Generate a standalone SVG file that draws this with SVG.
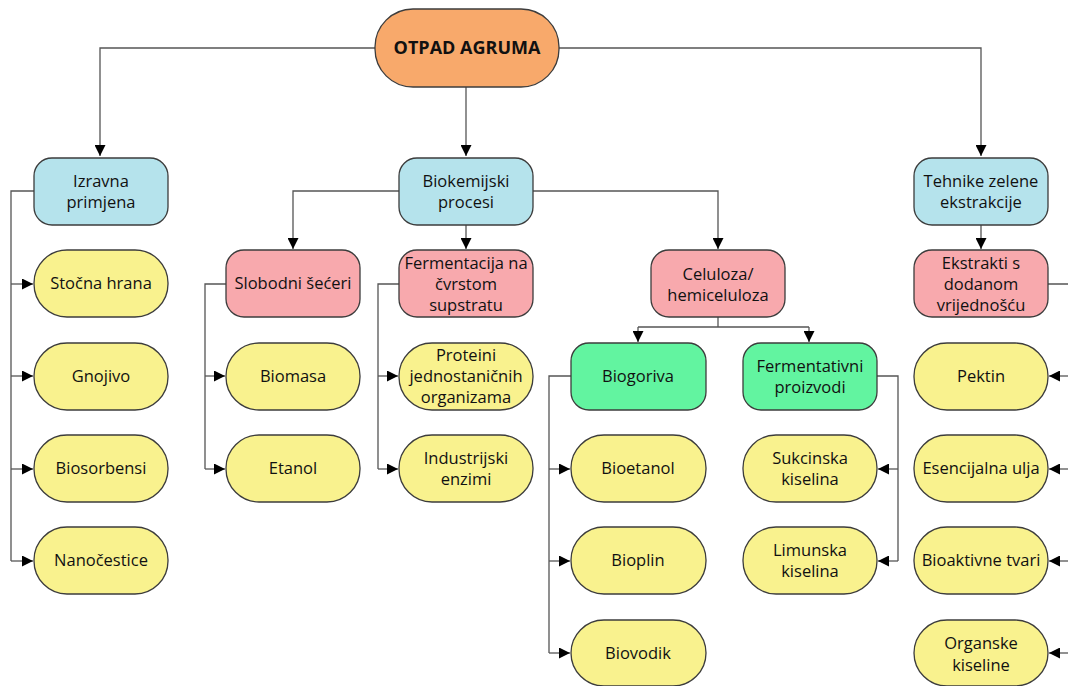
<svg xmlns="http://www.w3.org/2000/svg" width="1068" height="686" viewBox="0 0 1068 686">
<defs>
<marker id="ah" viewBox="0 0 10 10" refX="10" refY="5" markerWidth="11" markerHeight="11" markerUnits="userSpaceOnUse" orient="auto"><path d="M0,0 L10,5 L0,10 z" fill="#000"/></marker>
<style>
.box{stroke:#3c3c3c;stroke-width:1.3}
.org{fill:#F8A96B}.blu{fill:#B5E3EC}.pnk{fill:#F8A9AD}.grn{fill:#62F4A0}.yel{fill:#F9F28E}
text{font-family:"Open Sans","Noto Sans",sans-serif;font-size:16.5px;fill:#111;text-anchor:middle}
.b{font-weight:bold;font-size:18px}
.c path{fill:none;stroke:#555;stroke-width:1.3}
.c path.a{marker-end:url(#ah)}
</style>
</defs>
<rect width="1068" height="686" fill="#fff"/>
<g class="c" id="connectors">
<path d="M375,48 H100 V156" class="a"/>
<path d="M559,48 H981 V156" class="a"/>
<path d="M466,87 V156" class="a"/>
<path d="M34,191 H11 V561"/>
<path d="M11,284 H33" class="a"/><path d="M11,376 H33" class="a"/><path d="M11,469 H33" class="a"/><path d="M11,561 H33" class="a"/>
<path d="M399,191 H293 V249" class="a"/>
<path d="M533,191 H718 V249" class="a"/>
<path d="M466,225 V249" class="a"/>
<path d="M981,225 V249" class="a"/>
<path d="M226,284 H205 V469"/>
<path d="M205,376 H225" class="a"/><path d="M205,469 H225" class="a"/>
<path d="M399,284 H378 V469"/>
<path d="M378,376 H398" class="a"/><path d="M378,469 H398" class="a"/>
<path d="M718,317 V327"/>
<path d="M638,327 H809"/>
<path d="M638,327 V342" class="a"/><path d="M809,327 V342" class="a"/>
<path d="M571,376 H549 V653"/>
<path d="M549,469 H570" class="a"/><path d="M549,561 H570" class="a"/><path d="M549,653 H570" class="a"/>
<path d="M877,376 H898 V561"/>
<path d="M898,469 H878" class="a"/><path d="M898,561 H878" class="a"/>
<path d="M1048,284 H1076 V653"/>
<path d="M1076,376 H1049" class="a"/><path d="M1076,469 H1049" class="a"/><path d="M1076,561 H1049" class="a"/><path d="M1076,653 H1049" class="a"/>
</g>
<g id="root"><rect class="box org" x="375" y="9" width="184" height="78" rx="38"/><text class="b" x="467" y="54">OTPAD AGRUMA</text></g>
<g id="izravna"><rect class="box blu" x="34" y="158" width="134" height="67" rx="18"/><text x="101" y="187">Izravna</text><text x="101" y="208">primjena</text></g>
<g id="biokemijski"><rect class="box blu" x="399" y="158" width="134" height="67" rx="18"/><text x="466" y="187">Biokemijski</text><text x="466" y="208">procesi</text></g>
<g id="tehnike"><rect class="box blu" x="914" y="158" width="134" height="67" rx="18"/><text x="981" y="187">Tehnike zelene</text><text x="981" y="208">ekstrakcije</text></g>
<g id="stocna"><rect class="box yel" x="34" y="250" width="134" height="67" rx="33"/><text x="101" y="289">Stočna hrana</text></g>
<g id="gnojivo"><rect class="box yel" x="34" y="343" width="134" height="67" rx="33"/><text x="101" y="382">Gnojivo</text></g>
<g id="biosorbensi"><rect class="box yel" x="34" y="435" width="134" height="67" rx="33"/><text x="101" y="474">Biosorbensi</text></g>
<g id="nanocestice"><rect class="box yel" x="34" y="527" width="134" height="67" rx="33"/><text x="101" y="566">Nanočestice</text></g>
<g id="slobodni"><rect class="box pnk" x="226" y="250" width="134" height="67" rx="18"/><text x="293" y="289">Slobodni šećeri</text></g>
<g id="biomasa"><rect class="box yel" x="226" y="343" width="134" height="67" rx="33"/><text x="293" y="382">Biomasa</text></g>
<g id="etanol"><rect class="box yel" x="226" y="435" width="134" height="67" rx="33"/><text x="293" y="474">Etanol</text></g>
<g id="fermentacija"><rect class="box pnk" x="399" y="250" width="134" height="67" rx="18"/><text x="466" y="269">Fermentacija na</text><text x="466" y="290">čvrstom</text><text x="466" y="311">supstratu</text></g>
<g id="proteini"><rect class="box yel" x="399" y="343" width="134" height="67" rx="33"/><text x="466" y="361">Proteini</text><text x="466" y="382">jednostaničnih</text><text x="466" y="403">organizama</text></g>
<g id="industrijski"><rect class="box yel" x="399" y="435" width="134" height="67" rx="33"/><text x="466" y="464">Industrijski</text><text x="466" y="485">enzimi</text></g>
<g id="celuloza"><rect class="box pnk" x="651" y="250" width="134" height="67" rx="18"/><text x="718" y="280">Celuloza/</text><text x="718" y="301">hemiceluloza</text></g>
<g id="biogoriva"><rect class="box grn" x="571" y="343" width="135" height="67" rx="18"/><text x="638" y="382">Biogoriva</text></g>
<g id="fermentativni"><rect class="box grn" x="743" y="343" width="134" height="67" rx="18"/><text x="810" y="372">Fermentativni</text><text x="810" y="393">proizvodi</text></g>
<g id="bioetanol"><rect class="box yel" x="571" y="435" width="135" height="67" rx="33"/><text x="638" y="474">Bioetanol</text></g>
<g id="bioplin"><rect class="box yel" x="571" y="527" width="135" height="67" rx="33"/><text x="638" y="566">Bioplin</text></g>
<g id="biovodik"><rect class="box yel" x="571" y="620" width="135" height="66" rx="33"/><text x="638" y="659">Biovodik</text></g>
<g id="sukcinska"><rect class="box yel" x="743" y="435" width="134" height="67" rx="33"/><text x="810" y="464">Sukcinska</text><text x="810" y="485">kiselina</text></g>
<g id="limunska"><rect class="box yel" x="743" y="527" width="134" height="67" rx="33"/><text x="810" y="556">Limunska</text><text x="810" y="577">kiselina</text></g>
<g id="ekstrakti"><rect class="box pnk" x="914" y="250" width="134" height="67" rx="18"/><text x="981" y="269">Ekstrakti s</text><text x="981" y="290">dodanom</text><text x="981" y="311">vrijednošću</text></g>
<g id="pektin"><rect class="box yel" x="914" y="343" width="134" height="67" rx="33"/><text x="981" y="382">Pektin</text></g>
<g id="esencijalna"><rect class="box yel" x="914" y="435" width="134" height="67" rx="33"/><text x="981" y="474">Esencijalna ulja</text></g>
<g id="bioaktivne"><rect class="box yel" x="914" y="527" width="134" height="67" rx="33"/><text x="981" y="566">Bioaktivne tvari</text></g>
<g id="organske"><rect class="box yel" x="914" y="620" width="134" height="66" rx="33"/><text x="981" y="649">Organske</text><text x="981" y="671">kiseline</text></g>
</svg>
